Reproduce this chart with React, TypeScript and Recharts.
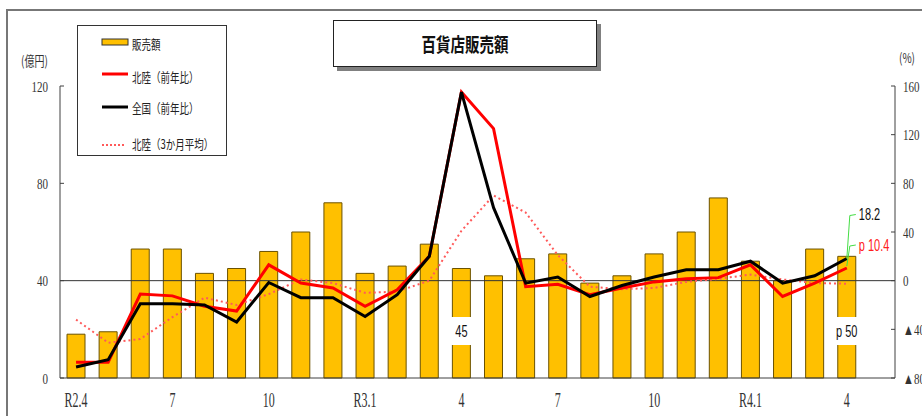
import { Bar, ComposedChart, LabelList, Legend, Line, ReferenceLine, XAxis, YAxis } from "recharts"

// months R2.4 .. R4.4, plus one empty slot at the right edge
const months = ["R2.4", "5", "6", "7", "8", "9", "10", "11", "12", "R3.1", "2", "3", "4", "5", "6", "7", "8", "9", "10", "11", "12", "R4.1", "2", "3", "4", "5"]

// 販売額 (億円)
const sales = [18, 19, 53, 53, 43, 45, 52, 60, 72, 43, 46, 55, 45, 42, 49, 51, 39, 42, 51, 60, 74, 48, 40, 53, 50]
// 北陸(前年比) %
const hokurikuYoY = [-67, -67, -11, -12.5, -21, -25, 13, -2, -6, -21, -7.5, 20, 155, 125, -5, -3, -11.5, -6, -1, 1.5, 2.5, 13, -13, -2, 10.4]
// 全国(前年比) %
const zenkokuYoY = [-71, -65, -19, -19, -20, -34, -1.5, -14, -14, -29.5, -11.5, 20, 155, 60, -2, 3, -13, -4, 3, 9, 9, 16, -2, 4, 18.2]
// 北陸(3か月平均) %
const hokuriku3m = [-32, -51, -48, -30, -14, -20, -11, 1, -2, -10, -9, 0, 41, 70, 56, 21, -5, -7, -6, -1, 1.5, 5, 1, -2, -2.5]

const salesNotes: Record<number, string> = { 12: "45", 24: "p 50" }
const zenkokuNotes: Record<number, string> = { 24: "18.2" }
const hokurikuNotes: Record<number, string> = { 24: "p 10.4" }

const leftTicks = [0, 40, 80, 120]
const rightTicks = [-80, -40, 0, 40, 80, 120, 160]

const data = months.map((m, i) => ({
  month: m,
  sales: sales[i] ?? null,
  hokuriku: hokurikuYoY[i] ?? null,
  zenkoku: zenkokuYoY[i] ?? null,
  avg3: hokuriku3m[i] ?? null,
  salesNote: salesNotes[i] ?? "",
  zenkokuNote: zenkokuNotes[i] ?? "",
  hokurikuNote: hokurikuNotes[i] ?? "",
}))

const SERIF = "'Liberation Serif', 'DejaVu Serif', serif"
const SANS = "'Liberation Sans', Arial, sans-serif"
const CJK = "'Noto Sans CJK JP', sans-serif"

function LeftTick(props: any) {
  const { x, y, payload } = props
  return (
    <text transform={`translate(${x} ${y}) scale(1 1.4)`} textAnchor="end" dy="0.36em"
      fontFamily={SERIF} fontSize={11} fill="#333">
      {payload.value}
    </text>
  )
}

function RightTick(props: any) {
  const { x, y, payload } = props
  const v = payload.value
  return (
    <text transform={`translate(${x} ${y}) scale(1 1.4)`} textAnchor="start" dy="0.36em"
      fontFamily={SERIF} fontSize={11} fill="#333">
      {v < 0 ? `▲${-v}` : v}
    </text>
  )
}

function MonthTick(props: any) {
  const { x, y, payload } = props
  return (
    <text transform={`translate(${x} ${y + 21}) scale(1 1.8)`} textAnchor="middle" dy="0.36em"
      fontFamily={SERIF} fontSize={12} fill="#333">
      {payload.value}
    </text>
  )
}

function BarNote(props: any) {
  const { x, y, width, height, value } = props
  if (!value) return null
  const bottom = y + height
  return (
    <g>
      <rect x={x - 3} y={bottom - 61} width={width + 6} height={28} fill="#fff" />
      <text transform={`translate(${x + width / 2} ${bottom - 47}) scale(1 1.55)`} textAnchor="middle"
        dy="0.36em" fontFamily={SANS} fontSize={11} fill="#111">
        {value}
      </text>
    </g>
  )
}

function makeLineNote(color: string, rise: number, lift: number) {
  return (props: any) => {
    const { x, y, value } = props
    if (!value) return null
    const ty = y - rise
    return (
      <g>
        <polyline points={`${x},${y - lift} ${x + 3},${ty + 1} ${x + 9},${ty}`} fill="none" stroke="#44dd44" strokeWidth={1} />
        <text transform={`translate(${x + 12} ${ty}) scale(1 1.5)`} textAnchor="start" dy="0.36em"
          fontFamily={SANS} fontSize={11} fill={color}>
          {value}
        </text>
      </g>
    )
  }
}

function LegendBox() {
  const rows = [
    { label: "販売額", kind: "bar", my: 16, ty: 18.5 },
    { label: "北陸（前年比）", kind: "red", my: 48, ty: 51.5 },
    { label: "全国（前年比）", kind: "black", my: 81, ty: 82.5 },
    { label: "北陸（3か月平均）", kind: "dot", my: 119, ty: 118.5 },
  ]
  return (
    <div style={{ width: 150, height: 131, border: "1px solid #333", background: "#fff", boxSizing: "border-box" }}>
      <svg width={148} height={129}>
        {rows.map((r) => (
          <g key={r.label}>
            {r.kind === "bar" && <rect x={24} y={r.my - 3} width={26} height={6} fill="#FFC000" stroke="#333" strokeWidth={1} />}
            {r.kind === "red" && <line x1={24} x2={50} y1={r.my} y2={r.my} stroke="#FF0000" strokeWidth={3} />}
            {r.kind === "black" && <line x1={24} x2={50} y1={r.my} y2={r.my} stroke="#000" strokeWidth={3} />}
            {r.kind === "dot" && <line x1={24} x2={46} y1={r.my} y2={r.my} stroke="#FF5A5A" strokeWidth={2} strokeDasharray="2 2" />}
            <text transform={`translate(54 ${r.ty}) scale(1 1.35)`} dy="0.36em" fontFamily={CJK} fontSize={9.5} fill="#222">
              {r.label}
            </text>
          </g>
        ))}
      </svg>
    </div>
  )
}

export default function App() {
  return (
    <div style={{ position: "absolute", left: 0, top: 0, width: 922, height: 416, overflow: "hidden", background: "#fff" }}>
      <div style={{ position: "absolute", left: 6, top: 9, width: 930, height: 420, borderTop: "2px solid #777", borderLeft: "2px solid #777" }} />
      <div style={{
        position: "absolute", left: 333, top: 20, width: 264, height: 47, border: "1px solid #222", background: "#fff",
        boxShadow: "4px 4px 0 #808080", display: "flex", alignItems: "center", justifyContent: "center", boxSizing: "border-box",
      }}>
        <span style={{ fontFamily: CJK, fontSize: 14.5, fontWeight: 700, color: "#111", transform: "scaleY(1.35)", display: "inline-block" }}>
          百貨店販売額
        </span>
      </div>
      <div style={{ position: "absolute", left: 21, top: 52, fontFamily: CJK, fontSize: 10, color: "#333", transform: "scaleY(1.35)", whiteSpace: "nowrap" }}>(億円)</div>
      <div style={{ position: "absolute", left: 899, top: 49, fontFamily: CJK, fontSize: 10, color: "#333", transform: "scaleY(1.35)", whiteSpace: "nowrap" }}>(%)</div>
      <div style={{ position: "absolute", left: 0, top: 0 }}>
        <ComposedChart width={922} height={416} data={data} margin={{ top: 86, right: 0, bottom: 0, left: 0 }}>
          <XAxis dataKey="month" height={38} interval={2} tickLine={false} tickSize={0} tickMargin={0}
            tick={MonthTick} axisLine={{ stroke: "#404040" }} />
          <YAxis yAxisId="left" orientation="left" width={60} domain={[0, 120]} ticks={leftTicks}
            tickSize={-4} tickMargin={16} tick={LeftTick} axisLine={{ stroke: "#404040" }} tickLine={{ stroke: "#404040" }} />
          <YAxis yAxisId="right" orientation="right" width={27} domain={[-80, 160]} ticks={rightTicks}
            tickSize={-4} tickMargin={12} tick={RightTick} axisLine={{ stroke: "#404040" }} tickLine={{ stroke: "#404040" }} />
          <Legend layout="vertical" align="center" verticalAlign="middle" content={LegendBox}
            wrapperStyle={{ top: 25, left: 77, width: 150, height: 131 }} />
          <Bar yAxisId="left" dataKey="sales" name="販売額" barSize={18} fill="#FFC000" stroke="#6b5200" strokeWidth={1} isAnimationActive={false}>
            <LabelList dataKey="salesNote" content={BarNote} />
          </Bar>
          <ReferenceLine yAxisId="right" y={0} stroke="#333" strokeWidth={1} />
          <Line yAxisId="right" dataKey="avg3" name="北陸（3か月平均）" type="linear" stroke="#FF5A5A" strokeWidth={2}
            strokeDasharray="2 3" dot={false} activeDot={false} isAnimationActive={false} />
          <Line yAxisId="right" dataKey="hokuriku" name="北陸（前年比）" type="linear" stroke="#FF0000" strokeWidth={3}
            dot={false} activeDot={false} isAnimationActive={false}>
            <LabelList dataKey="hokurikuNote" content={makeLineNote("#FF2020", 23, 2)} />
          </Line>
          <Line yAxisId="right" dataKey="zenkoku" name="全国（前年比）" type="linear" stroke="#000" strokeWidth={3}
            dot={false} activeDot={false} isAnimationActive={false}>
            <LabelList dataKey="zenkokuNote" content={makeLineNote("#111", 44, 0)} />
          </Line>
        </ComposedChart>
      </div>
    </div>
  )
}
